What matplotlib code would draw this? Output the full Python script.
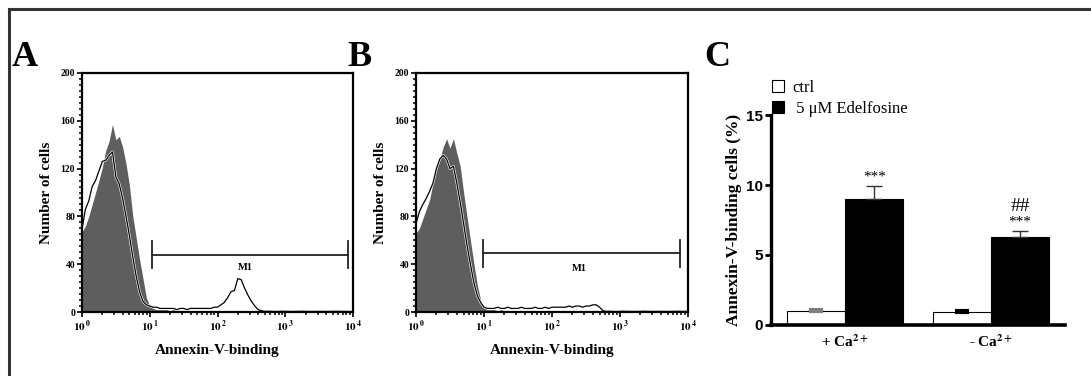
import numpy as np
import matplotlib
matplotlib.use('Agg')
import matplotlib.pyplot as plt
import matplotlib.patheffects as pe
from matplotlib.lines import Line2D
from matplotlib.ticker import MultipleLocator, LogLocator, NullFormatter

plt.rcParams['font.family'] = ['Liberation Serif', 'DejaVu Serif']
plt.rcParams['mathtext.fontset'] = 'stix'

# histogram channels (log10 of fluorescence), 0.05 decade steps
log_ch = np.round(np.arange(0, 4.0001, 0.05), 2)
chan = 10 ** log_ch

# panel A: gray = control, line = edelfosine (+Ca2+)
gray_a = [67, 72, 80, 90, 100, 110, 121, 135, 143, 157, 144, 147, 138, 124, 106, 80,
          62, 44, 28, 12, 5, 3, 2,
          2, 2, 2, 1, 2, 1, 1, 1, 1, 1, 1, 1, 1, 1, 1, 1, 1, 1,
          0.4, 0.3, 0.4, 0.3, 0.3, 0.4, 0.3, 0.3, 0.3, 0.3, 0.3, 0.3, 0.2, 0.3, 0.3, 0.2,
          0.3, 0.2, 0.2, 0.3, 0.2, 0.2, 0.2, 0.2, 0.2, 0.2, 0.2, 0.2, 0.2, 0.2, 0.2, 0.2,
          0.2, 0.2, 0.2, 0.2, 0.2, 0.2, 0.2, 0.2]
line_a = [69, 86, 93, 105, 110, 118, 126, 127, 131, 134, 113, 107, 95, 80, 64, 46,
          30, 17, 9, 6, 5, 4, 4, 3, 3,
          3, 3, 3, 2, 3, 3, 2, 3, 3, 3, 3, 3, 3, 3, 4, 4, 6, 8, 12, 17, 18, 28, 27, 20,
          14, 9, 5, 2, 1,
          0.5, 0.6, 0.5, 0.4, 0.5, 0.6, 0.5, 0.5, 0.4, 0.5, 0.5, 0.6, 0.5, 0.5, 0.4, 0.5,
          0.5, 0.5, 0.4, 0.5, 0.5, 0.6, 0.5, 0.5, 0.5, 0.4, 0.5]

# panel B: gray = control, line = edelfosine (-Ca2+)
gray_b = [66, 70, 78, 86, 94, 108, 120, 128, 138, 145, 137, 145, 133, 122, 100, 80,
          60, 41, 23, 10, 4, 2,
          2, 2, 1, 2, 1, 1, 1, 1, 1, 1, 1, 1, 1, 1, 1, 1, 1, 1, 1,
          0.4, 0.3, 0.4, 0.3, 0.3, 0.4, 0.3, 0.3, 0.3, 0.3, 0.3, 0.3, 0.2, 0.3, 0.3, 0.2,
          0.3, 0.2, 0.2, 0.3, 0.2, 0.2, 0.2, 0.2, 0.2, 0.2, 0.2, 0.2, 0.2, 0.2, 0.2, 0.2,
          0.2, 0.2, 0.2, 0.2, 0.2, 0.2, 0.2, 0.2]
line_b = [74, 84, 90, 95, 101, 108, 120, 128, 131, 128, 120, 122, 108, 92, 74, 56,
          40, 25, 14, 8, 4, 3,
          3, 3, 4, 3, 3, 4, 3, 3, 3, 4, 3, 3, 3, 4, 3, 3, 4, 3, 4, 4, 4, 4,
          4, 5, 4, 5, 5, 4, 5, 5, 6, 6, 4, 1,
          0.5, 0.6, 0.5, 0.4, 0.5, 0.6, 0.5, 0.5, 0.4, 0.5, 0.5, 0.6, 0.5, 0.5, 0.4, 0.5,
          0.5, 0.5, 0.4, 0.5, 0.5, 0.6, 0.5, 0.5, 0.5]

# M1 gate: low, high, height, label position
gate_a = (10.8, 8300, 48, 260, 37)
gate_b = (9.8, 7600, 49, 250, 36)

# panel C
groups = ['+ Ca$^{\\mathbf{2+}}$', '- Ca$^{\\mathbf{2+}}$']
ctrl_mean = [1.0, 0.9]
ctrl_err = [0.08, 0.08]
edel_mean = [9.0, 6.3]
edel_err = [0.95, 0.45]
stars = ['***', '***']
hashes = ['', '##']

W, H = 1091, 376
fig = plt.figure(figsize=(W / 100, H / 100), dpi=100)


def box(x0, y0, x1, y1):
    return [x0 / W, 1 - y1 / H, (x1 - x0) / W, (y1 - y0) / H]


def histo(ax, gray, line, gate):
    ax.fill_between(chan, gray, color='#5e5e5e', lw=0)
    ax.plot(chan, line, color='black', lw=0.9,
            path_effects=[pe.Stroke(linewidth=1.8, foreground='white'), pe.Normal()])
    lo, hi, gy, lx, ly = gate
    ax.plot([lo, hi], [gy, gy], color='#222222', lw=1.3)
    ax.plot([lo, lo], [gy - 11, gy + 11], color='#222222', lw=1.3)
    ax.plot([hi, hi], [gy - 11, gy + 11], color='#222222', lw=1.3)
    ax.text(lx, ly, 'M1', fontsize=7.5, fontweight='bold', ha='center', va='center')
    ax.set_xscale('log')
    ax.set_xlim(1, 1e4)
    ax.set_ylim(0, 200)
    ax.set_xticks([1, 10, 100, 1000, 10000])
    ax.set_xticklabels([r'$\mathbf{10^{\,%d}}$' % k for k in range(5)], fontsize=8)
    ax.xaxis.set_minor_locator(LogLocator(base=10, subs=np.arange(2, 10)))
    ax.xaxis.set_minor_formatter(NullFormatter())
    ax.set_yticks([0, 40, 80, 120, 160, 200])
    ax.set_yticklabels(['0', '40', '80', '120', '160', '200'], fontsize=7, fontweight='bold')
    ax.yaxis.set_minor_locator(MultipleLocator(5))
    ax.tick_params(which='major', length=3.5, width=1.2, pad=1.5)
    ax.tick_params(which='minor', length=2, width=1.1)
    for s in ax.spines.values():
        s.set_linewidth(1.6)
    ax.set_xlabel('Annexin-V-binding', fontsize=11, fontweight='bold', labelpad=7)
    ax.set_ylabel('Number of cells', fontsize=11, fontweight='bold', labelpad=5)


ax_a = fig.add_axes(box(82, 73, 353, 312))
histo(ax_a, gray_a, line_a, gate_a)
ax_b = fig.add_axes(box(416, 73, 688, 312))
histo(ax_b, gray_b, line_b, gate_b)

ax_c = fig.add_axes(box(771, 115, 1065, 325))
x = np.arange(len(groups))
bw = 0.4
ax_c.bar(x - bw / 2, ctrl_mean, bw, color='white', edgecolor='black', lw=0.8, label='ctrl')
ax_c.bar(x + bw / 2, edel_mean, bw, color='black', edgecolor='black', lw=0.8,
         label=' 5 \u03bcM Edelfosine')
for i in range(len(groups)):
    ax_c.errorbar(x[i] - bw / 2, ctrl_mean[i], yerr=[[0], [ctrl_err[i]]],
                  color='#808080' if i == 0 else 'black', capsize=5, capthick=3, lw=1)
    ax_c.errorbar(x[i] + bw / 2, edel_mean[i], yerr=[[0], [edel_err[i]]],
                  color='#333333', capsize=6, capthick=1, lw=1)
    top = edel_mean[i] + edel_err[i]
    ax_c.text(x[i] + bw / 2, top + 0.15, stars[i], fontsize=11, ha='center', va='bottom')
    if hashes[i]:
        ax_c.text(x[i] + bw / 2, top + 1.1, hashes[i], fontsize=14, ha='center', va='bottom')
ax_c.set_xlim(-0.507, 1.507)
ax_c.set_ylim(0, 15)
ax_c.set_yticks([0, 5, 10, 15])
ax_c.set_yticklabels(['0', '5', '10', '15'], family='Liberation Sans', fontweight='bold',
                     fontsize=11)
ax_c.set_xticks(x)
ax_c.set_xticklabels(groups, fontsize=11, fontweight='bold')
ax_c.tick_params(axis='x', length=0, pad=6)
ax_c.tick_params(axis='y', length=4, width=2, pad=2)
ax_c.spines['top'].set_visible(False)
ax_c.spines['right'].set_visible(False)
ax_c.spines['left'].set_linewidth(2.4)
ax_c.spines['bottom'].set_linewidth(2.6)
ax_c.set_ylabel('Annexin-V-binding cells (%)', fontsize=12.5, fontweight='bold', labelpad=3)
fig.legend(*ax_c.get_legend_handles_labels(), loc='upper left',
           bbox_to_anchor=(772 / W, 1 - 80 / H), frameon=False, fontsize=12,
           handlelength=0.7, handleheight=0.7, handletextpad=0.5, labelspacing=0.3,
           borderpad=0, borderaxespad=0)

for lab, px in (('A', 12), ('B', 347), ('C', 704)):
    fig.text(px / W, 1 - 66 / H, lab, fontsize=26, fontweight='bold', va='baseline')

fig.add_artist(Line2D([9 / W, 1], [1 - 9 / H, 1 - 9 / H], color='#333333', lw=2.2))
fig.add_artist(Line2D([9 / W, 9 / W], [0, 1 - 9 / H], color='#333333', lw=2.2))

fig.savefig('out.png', dpi=100)
